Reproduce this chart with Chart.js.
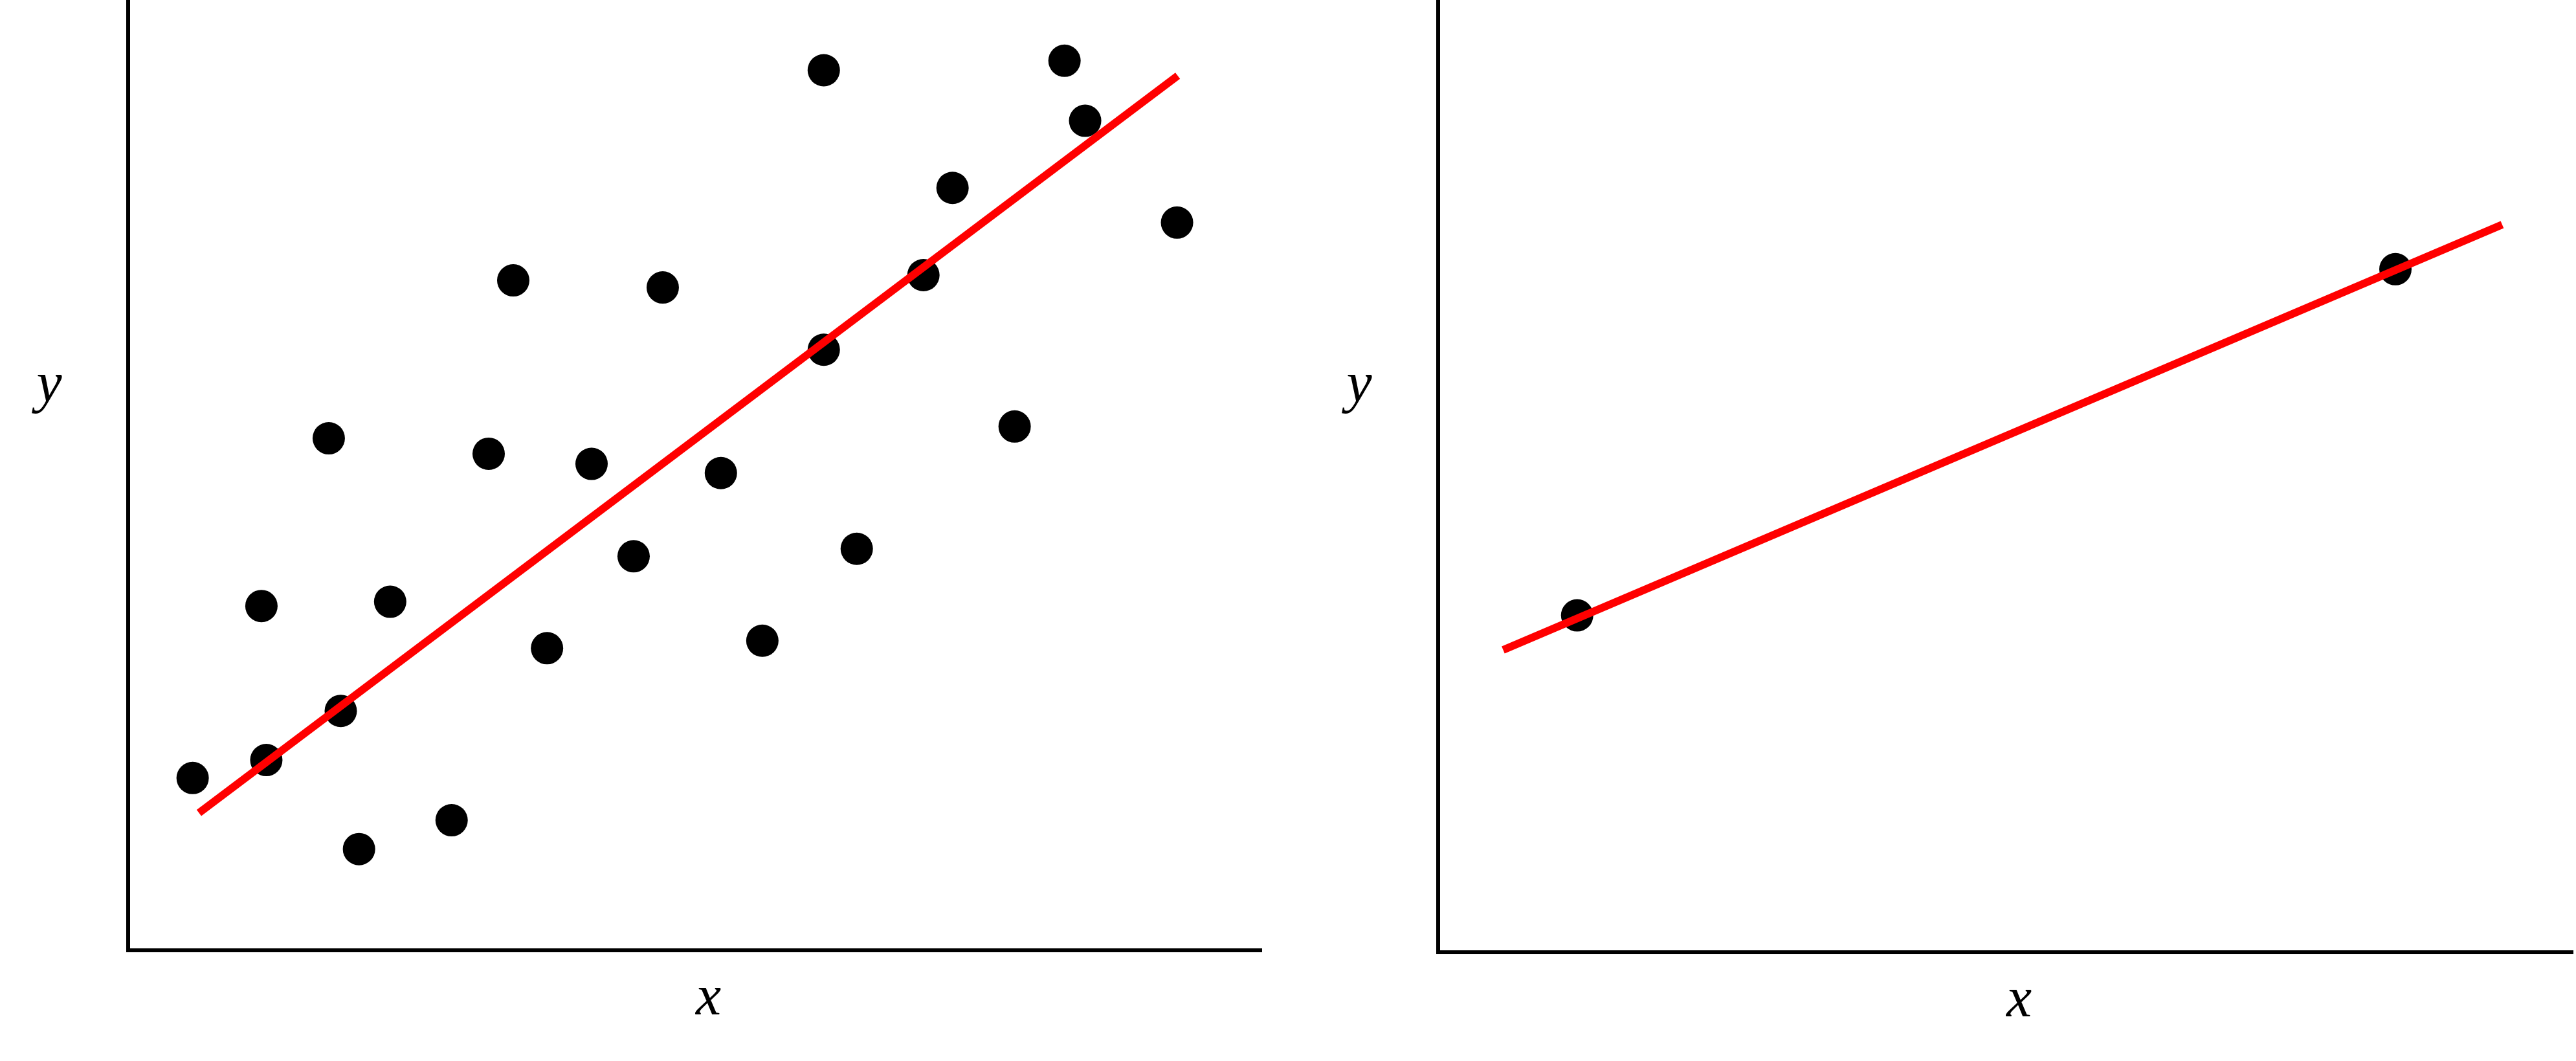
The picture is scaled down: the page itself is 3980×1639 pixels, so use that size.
<!DOCTYPE html>
<html>
<head>
<meta charset="utf-8">
<script src="https://cdn.jsdelivr.net/npm/chart.js@4.4.1/dist/chart.umd.min.js"></script>
<style>
  html, body { margin: 0; padding: 0; background: #ffffff; overflow: hidden; }
  #wrap { position: relative; width: 3980px; height: 1639px; background: #ffffff; }
  .panel { position: absolute; top: 0; width: 1990px; height: 1639px; }
  #leftPanel { left: 0; }
  #rightPanel { left: 1990px; }
</style>
</head>
<body>
<div id="wrap">
  <div class="panel" id="leftPanel"><canvas id="leftChart" width="1990" height="1639"></canvas></div>
  <div class="panel" id="rightPanel"><canvas id="rightChart" width="1990" height="1639"></canvas></div>
</div>
<script>
// ---------- data (arbitrary units 0..10) ----------
const xAxisLabel = 'x';
const yAxisLabel = 'y';

// left panel: scatter of many points
const leftX = [0.569, 1.219, 1.176, 1.770, 1.876, 2.037, 2.312, 2.854, 3.181, 3.398,
               3.696, 4.089, 4.460, 4.717, 5.230, 5.596, 6.138, 6.138, 6.429, 7.017,
               7.274, 7.822, 8.262, 8.444, 9.255];
const leftY = [1.813, 2.002, 3.623, 5.388, 2.519, 1.065, 3.668, 1.369, 5.225, 7.050,
               3.179, 5.119, 4.146, 6.975, 5.022, 3.258, 9.261, 6.320, 4.225, 7.105,
               8.023, 5.512, 9.361, 8.729, 7.658];
// left panel: fitted line endpoints
const leftFitX = [0.625, 9.261];
const leftFitY = [1.446, 9.203];

// right panel: two points
const rightX = [1.225, 8.437];
const rightY = [3.538, 7.173];
// right panel: line endpoints
const rightFitX = [0.573, 9.378];
const rightFitY = [3.175, 7.641];

const axisMin = 0;
const axisMax = 10;

// ---------- helpers ----------
function toPoints(xs, ys) { return xs.map((x, i) => ({ x: x, y: ys[i] })); }

const axisLabelPlugin = {
  id: 'axisLabels',
  afterDraw(chart, args, opts) {
    const ctx = chart.ctx;
    const a = chart.chartArea;
    ctx.save();
    ctx.fillStyle = '#000000';
    ctx.font = opts.font;
    ctx.textAlign = 'center';
    ctx.textBaseline = 'alphabetic';
    ctx.fillText(opts.xText, (a.left + a.right) / 2 + opts.xDx, a.bottom + opts.xDy);
    ctx.fillText(opts.yText, a.left + opts.yDx, opts.yBaseline);
    ctx.restore();
  }
};

function makeConfig(px, py, fx, fy, padding) {
  const scaleOpts = {
    type: 'linear',
    min: axisMin,
    max: axisMax,
    display: true,
    ticks: { display: false },
    grid: { display: false, drawTicks: false },
    border: { display: true, color: '#000000', width: 6 },
    title: { display: false }
  };
  return {
    type: 'scatter',
    data: {
      datasets: [
        {
          label: 'fit',
          data: toPoints(fx, fy),
          showLine: true,
          borderColor: '#ff0000',
          backgroundColor: '#ff0000',
          borderWidth: 12,
          borderCapStyle: 'butt',
          pointRadius: 0,
          pointHoverRadius: 0,
          order: 0,
          clip: false
        },
        {
          label: 'data',
          data: toPoints(px, py),
          showLine: false,
          backgroundColor: '#000000',
          borderColor: '#000000',
          borderWidth: 0,
          pointRadius: 25,
          pointHoverRadius: 25,
          order: 1,
          clip: false
        }
      ]
    },
    options: {
      responsive: false,
      animation: false,
      devicePixelRatio: 1,
      layout: { padding: padding, autoPadding: false },
      scales: { x: Object.assign({}, scaleOpts, { position: 'bottom' }),
                y: Object.assign({}, scaleOpts, { position: 'left' }) },
      plugins: {
        legend: { display: false },
        tooltip: { enabled: false },
        axisLabels: {
          font: 'italic 88px "Liberation Serif", "Times New Roman", serif',
          xText: xAxisLabel,
          yText: yAxisLabel,
          xDx: 21,
          xDy: 99,
          yDx: -122,
          yBaseline: 620
        }
      }
    },
    plugins: [axisLabelPlugin]
  };
}

new Chart(document.getElementById('leftChart'),
  makeConfig(leftX, leftY, leftFitX, leftFitY, { left: 198, top: 0, right: 41, bottom: 171 }));
new Chart(document.getElementById('rightChart'),
  makeConfig(rightX, rightY, rightFitX, rightFitY, { left: 232, top: 0, right: 5, bottom: 168 }));
</script>
</body>
</html>
